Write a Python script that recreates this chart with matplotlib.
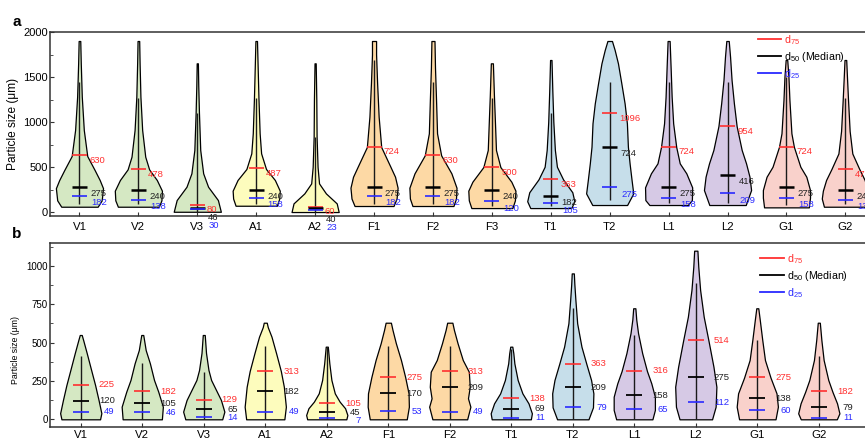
import numpy as np
import matplotlib
matplotlib.use('Agg')
import matplotlib.pyplot as plt
from matplotlib.lines import Line2D
from matplotlib.ticker import MultipleLocator

plt.rcParams['font.family'] = ['Liberation Sans', 'DejaVu Sans']
plt.rcParams['mathtext.default'] = 'regular'

RED = '#ff3030'
BLUE = '#2a2aff'
FILLS = {'V': '#d5e8c3', 'A': '#fdfcbd', 'F': '#fdd9a5',
         'T': '#c6deea', 'L': '#d6c9e5', 'G': '#f9d1cb'}

# ---------------- panel a ----------------
names_a = ['V1', 'V2', 'V3', 'A1', 'A2', 'F1', 'F2', 'F3', 'T1', 'T2', 'L1', 'L2', 'G1', 'G2']
d75_a = [630, 478, 80, 487, 60, 724, 630, 500, 363, 1096, 724, 954, 724, 478]
d50_a = [275, 240, 46, 240, 40, 275, 275, 240, 182, 724, 275, 416, 275, 240]
d25_a = [182, 138, 30, 158, 23, 182, 182, 120, 105, 275, 158, 209, 158, 138]
whisk_lo_a = [89, 89, 5, 89, 5, 89, 89, 70, 70, 133, 100, 105, 80, 89]
whisk_hi_a = [1448, 1263, 1100, 1263, 837, 1689, 1448, 1263, 1100, 1441, 1441, 1441, 1504, 1263]

# violin outlines: heights (um) and relative half widths
shape_y_a = [
    [59, 130, 265, 356, 467, 622, 911, 1281, 1652, 1900],
    [59, 130, 237, 356, 474, 615, 911, 1281, 1652, 1900],
    [3, 133, 281, 430, 689, 1100, 1400, 1652],
    [70, 150, 237, 356, 478, 652, 874, 1263, 1600, 1900],
    [0, 96, 207, 318, 500, 837, 1250, 1652],
    [67, 150, 270, 392, 503, 722, 1059, 1433, 1750, 1900],
    [67, 150, 270, 430, 630, 874, 1250, 1600, 1900],
    [44, 130, 237, 337, 500, 689, 1000, 1300, 1652],
    [44, 120, 220, 363, 503, 689, 1000, 1350, 1689],
    [78, 207, 356, 541, 726, 985, 1207, 1430, 1652, 1800, 1900],
    [78, 133, 274, 430, 541, 724, 985, 1281, 1600, 1900],
    [78, 244, 393, 541, 689, 954, 1207, 1467, 1726, 1900],
    [52, 160, 244, 392, 503, 724, 874, 1244, 1504, 1689],
    [59, 150, 237, 356, 478, 650, 900, 1244, 1500, 1689],
]
shape_w_a = [
    [18, 22, 23.3, 20, 15, 7.7, 4.3, 2.3, 1.3, 0.8],
    [20, 22.5, 23, 18, 10.5, 6.7, 3.7, 2, 1.2, 0.8],
    [24, 21, 11, 6, 3, 1.7, 1, 0.6],
    [21, 23.5, 24, 19, 10, 5, 3.5, 2.3, 1.5, 0.8],
    [24, 22, 11, 4, 2.5, 1.5, 1.2, 0.6],
    [19, 22, 23, 20.5, 16, 7, 4.5, 3, 2, 2],
    [20, 22.5, 23, 18, 8, 4, 3, 2, 1.5],
    [20, 22.5, 23, 19, 8.3, 4, 3, 2, 1],
    [20, 23, 21, 12, 6, 4, 2.5, 1.5, 0.7],
    [17.5, 23.7, 22, 20, 18.3, 17.3, 15, 11.7, 8.3, 5, 2.3],
    [19, 23, 23.3, 17.5, 11, 7.5, 4.5, 3, 2, 1],
    [18, 23.3, 21.7, 18.3, 14, 9, 6.3, 4, 2.5, 1.2],
    [22.5, 23.7, 23.7, 20, 14, 7.5, 5, 3, 2, 0.8],
    [20, 22, 21, 18, 13, 6.5, 4, 2.5, 1.5, 0.8],
]

# ---------------- panel b ----------------
names_b = ['V1', 'V2', 'V3', 'A1', 'A2', 'F1', 'F2', 'T1', 'T2', 'L1', 'L2', 'G1', 'G2']
d75_b = [225, 182, 129, 313, 105, 275, 313, 138, 363, 316, 514, 275, 182]
d50_b = [120, 105, 65, 182, 45, 170, 209, 69, 209, 158, 275, 138, 79]
d25_b = [49, 46, 14, 49, 7, 53, 49, 11, 79, 65, 112, 60, 11]
whisk_hi_b = [412, 364, 310, 477, 470, 477, 477, 460, 723, 549, 889, 516, 412]

shape_y_b = [
    [0, 40, 125, 223, 321, 432, 515, 549],
    [0, 82, 180, 256, 364, 451, 530, 549],
    [0, 50, 126, 191, 256, 321, 432, 549],
    [0, 82, 212, 314, 430, 538, 600, 629],
    [0, 28, 72, 115, 169, 256, 364, 473],
    [0, 82, 169, 275, 386, 495, 582, 629],
    [0, 82, 137, 212, 310, 386, 495, 582, 629],
    [0, 39, 104, 169, 256, 364, 430, 473],
    [0, 78, 169, 256, 360, 473, 625, 777, 880, 950],
    [0, 61, 147, 234, 314, 430, 560, 650, 723],
    [0, 82, 212, 342, 512, 668, 842, 993, 1098],
    [0, 82, 169, 271, 386, 516, 647, 723],
    [0, 39, 104, 178, 256, 386, 516, 629],
]
shape_w_b = [
    [19.5, 20.8, 18, 14.5, 10.5, 6, 2.5, 1],
    [20, 21, 16.3, 12, 7.8, 3.5, 1.5, 1],
    [18.8, 21, 17.5, 12.5, 7.5, 4.8, 2.3, 1],
    [19, 20.5, 18.5, 15.5, 10.8, 6.2, 2.5, 1.5],
    [19, 20, 17.8, 12.5, 7.8, 4.5, 2.5, 1],
    [17.5, 19.5, 19.2, 16, 12, 7.2, 4, 2.5],
    [16.7, 19.8, 17.5, 19.2, 18.3, 12.5, 7.5, 4, 2.5],
    [19, 20, 16.7, 10.8, 6.2, 3, 2, 1],
    [15, 19.3, 19.7, 17.5, 13, 8.3, 4.2, 2.5, 1.5, 1],
    [16.7, 19, 19, 15.7, 11.7, 7.3, 3.5, 1.8, 1],
    [15, 18.3, 19, 16.3, 11.7, 7.3, 4, 2.3, 1.5],
    [18.3, 20.7, 19.3, 13.3, 7.7, 5, 2.5, 1],
    [17.5, 20, 17.7, 13.3, 9.2, 4.7, 2.5, 1],
]


def draw_violins(ax, names, d75, d50, d25, lo, hi, sy, sw, width, half, med_lw):
    pos = np.arange(1, len(names) + 1)
    stats = []
    for y, w, m in zip(sy, sw, d50):
        stats.append(dict(coords=np.array(y, float), vals=np.array(w, float),
                          mean=m, median=m, min=y[0], max=y[-1]))
    parts = ax.violin(stats, positions=pos, widths=width, showextrema=False)
    for body, n in zip(parts['bodies'], names):
        body.set_facecolor(FILLS[n[0]])
        body.set_edgecolor('black')
        body.set_linewidth(0.9)
        body.set_alpha(1)
    ax.vlines(pos, lo, hi, color='#1a1a1a', lw=1.0, zorder=3)
    ax.hlines(d75, pos - half, pos + half, color=RED, lw=1.2, zorder=4)
    ax.hlines(d50, pos - half, pos + half, color='black', lw=med_lw, zorder=4)
    ax.hlines(d25, pos - half, pos + half, color=BLUE, lw=1.2, zorder=4)
    return pos


def style_axes(ax, ylabel_x, ylabel_y, tick_fs, ylabel_fs, xpad):
    for s in ax.spines.values():
        s.set_color('#333333')
        s.set_linewidth(1.1)
    ax.tick_params(axis='both', which='both', direction='in', color='#333333')
    ax.tick_params(axis='y', which='major', length=3, labelsize=tick_fs, pad=1.5)
    ax.tick_params(axis='y', which='minor', length=1.8)
    ax.tick_params(axis='x', length=3, labelsize=8.2, pad=xpad)
    ax.set_ylabel('Particle size (\u03bcm)', fontsize=ylabel_fs)
    ax.yaxis.set_label_coords(ylabel_x, ylabel_y)


def add_legend(ax, x, y):
    handles = [Line2D([], [], color=RED, lw=1.3),
               Line2D([], [], color='black', lw=1.3),
               Line2D([], [], color=BLUE, lw=1.3)]
    ax.legend(handles, ['d$_{75}$', 'd$_{50}$ (Median)', 'd$_{25}$'],
              loc='upper left', bbox_to_anchor=(x, y), frameon=False,
              fontsize=7.7, handlelength=2.2, handletextpad=0.25,
              labelspacing=0.3, borderpad=0, borderaxespad=0,
              labelcolor='linecolor')


def units_per_px(fig, ax):
    lo, hi = ax.get_ylim()
    return (hi - lo) / (ax.get_position().height * fig.get_figheight() * fig.dpi)


fig = plt.figure(figsize=(8.65, 4.44), dpi=100)

# axes run a little past the right edge, as in the cropped original
ax_a = fig.add_axes([50 / 865, 1 - 216 / 444, 826 / 865, 184 / 444])
ax_b = fig.add_axes([50 / 865, 1 - 427.3 / 444, 826 / 865, 184.6 / 444])

# panel a
pos_a = draw_violins(ax_a, names_a, d75_a, d50_a, d25_a, whisk_lo_a, whisk_hi_a,
                     shape_y_a, shape_w_a, 0.80, 0.127, 1.8)
ax_a.set_xlim(0.5, 14.52)
ax_a.set_ylim(-44, 2000)
ax_a.set_xticks(pos_a, names_a)
ax_a.yaxis.set_major_locator(MultipleLocator(500))
ax_a.yaxis.set_minor_locator(MultipleLocator(250))
style_axes(ax_a, -0.038, 0.5, 8, 8.6, 4.5)

u = units_per_px(fig, ax_a)
for p, q3, q2, q1 in zip(pos_a, d75_a, d50_a, d25_a):
    ry = q3 - 5 * u
    my = min(q2 - 6.5 * u, ry - 8 * u)
    by = min(q1 - 7 * u, my - 8 * u)
    x = p + 0.165
    ax_a.text(x, ry, str(q3), color=RED, fontsize=6.8, va='center', ha='left')
    ax_a.text(x + 0.02, my, str(q2), color='#222222', fontsize=6.8, va='center', ha='left')
    ax_a.text(x + 0.03, by, str(q1), color=BLUE, fontsize=6.8, va='center', ha='left')
add_legend(ax_a, 0.857, 0.995)

# panel b
pos_b = draw_violins(ax_b, names_b, d75_b, d50_b, d25_b, [0] * len(names_b), whisk_hi_b,
                     shape_y_b, shape_w_b, 0.67, 0.13, 1.3)
ax_b.set_xlim(0.5, 13.93)
ax_b.set_ylim(-52, 1150)
ax_b.set_xticks(pos_b, names_b)
ax_b.yaxis.set_major_locator(MultipleLocator(250))
ax_b.yaxis.set_minor_locator(MultipleLocator(125))
style_axes(ax_b, -0.036, 0.42, 7, 6.3, 2)

u = units_per_px(fig, ax_b)
for p, q3, q2, q1 in zip(pos_b, d75_b, d50_b, d25_b):
    ry = q3
    my = min(q2, ry - 8.5 * u)
    by = min(q1, my - 8.5 * u)
    x = p + 0.553
    ax_b.text(x, ry, str(q3), color=RED, fontsize=6.8, va='center', ha='right')
    ax_b.text(x, my, str(q2), color='#222222', fontsize=6.8, va='center', ha='right')
    ax_b.text(x, by, str(q1), color=BLUE, fontsize=6.8, va='center', ha='right')
add_legend(ax_b, 0.86, 0.95)

fig.text(17 / 865, 1 - 22 / 444, 'a', fontsize=11, fontweight='bold', ha='center', va='center')
fig.text(17 / 865, 1 - 234 / 444, 'b', fontsize=11, fontweight='bold', ha='center', va='center')

fig.savefig('out.png', dpi=100)
